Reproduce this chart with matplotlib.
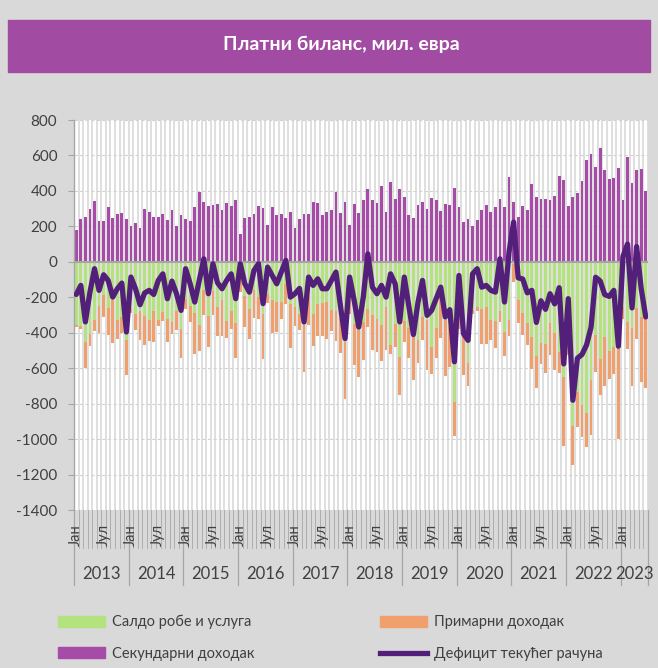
import matplotlib
matplotlib.use('Agg')
import matplotlib.pyplot as plt
import matplotlib.patches as mpatches
from matplotlib.lines import Line2D
from matplotlib.transforms import blended_transform_factory
import numpy as np

plt.rcParams['font.family'] = ['Lato', 'DejaVu Sans']

# monthly data, Jan 2013 - Jun 2023, mil. EUR
years = ['2013', '2014', '2015', '2016', '2017', '2018', '2019', '2020', '2021', '2022', '2023']
month_labels = {0: 'Јан', 6: 'Јул'}

goods = [-359, -361, -452, -405, -330, -247, -189, -261, -218, -330, -311, -442,
         -262, -292, -278, -308, -330, -279, -330, -283, -325, -341, -277, -381,
         -212, -249, -286, -355, -160, -306, -165, -255, -217, -336, -277, -347,
         -105, -192, -264, -161, -198, -293, -183, -213, -227, -226, -124, -236,
         -253, -292, -358, -198, -292, -236, -231, -227, -270, -275, -320, -452,
         -217, -349, -386, -339, -265, -302, -324, -358, -255, -472, -350, -536,
         -332, -371, -424, -442, -311, -330, -481, -371, -200, -330, -368, -790,
         -255, -412, -572, -274, -256, -264, -255, -330, -334, -280, -396, -330,
         -11, -217, -288, -345, -424, -532, -458, -461, -345, -401, -508, -649,
         -400, -927, -733, -808, -855, -664, -411, -549, -424, -501, -482, -460,
         -254, -339, -372, -260, -309, -311]

primary = [-9, -20, -146, -69, -62, -152, -122, -150, -240, -103, -88, -199,
           -29, -94, -161, -163, -116, -173, -30, -51, -129, -64, -109, -161,
           -52, -92, -234, -150, -140, -174, -135, -165, -203, -94, -103, -193,
           -66, -178, -169, -154, -126, -253, -47, -186, -169, -98, -112, -248,
           -107, -94, -263, -156, -184, -184, -189, -210, -120, -169, -197, -324,
           -75, -234, -263, -216, -103, -193, -184, -203, -240, -47, -128, -216,
           -122, -169, -240, -128, -128, -278, -150, -169, -231, -315, -225, -191,
           -125, -225, -131, -19, -22, -201, -206, -109, -150, -60, -137, -90,
           -103, -128, -126, -126, -178, -182, -120, -165, -182, -210, -122, -390,
           -125, -219, -197, -178, -191, -313, -210, -203, -276, -159, -150, -540,
           -66, -150, -328, -173, -371, -403]

secondary = [182, 244, 251, 296, 345, 232, 232, 307, 249, 268, 276, 244,
             204, 219, 189, 298, 281, 255, 253, 268, 236, 292, 202, 266,
             240, 229, 309, 396, 337, 315, 319, 324, 293, 329, 313, 349,
             158, 249, 255, 272, 315, 304, 210, 311, 263, 270, 248, 283,
             191, 244, 272, 272, 338, 330, 264, 279, 291, 396, 277, 338,
             210, 324, 274, 349, 413, 349, 332, 426, 279, 452, 354, 409,
             366, 263, 248, 321, 338, 298, 362, 351, 289, 328, 323, 416,
             311, 227, 244, 204, 234, 294, 323, 279, 308, 354, 311, 476,
             339, 251, 317, 293, 441, 368, 356, 354, 349, 373, 482, 461,
             317, 364, 388, 458, 576, 608, 533, 641, 519, 467, 471, 529,
             349, 589, 446, 519, 523, 401]

current_account = [-184, -133, -339, -171, -39, -161, -73, -105, -199, -152, -120, -396,
                   -86, -152, -242, -176, -161, -184, -105, -68, -208, -109, -180, -274,
                   -39, -124, -227, -105, 17, -180, -11, -118, -152, -105, -68, -208,
                   -11, -124, -171, -49, -11, -236, -30, -77, -124, -58, 8, -199,
                   -180, -150, -339, -86, -133, -96, -152, -152, -105, -58, -250, -433,
                   -86, -218, -368, -199, 45, -143, -180, -133, -199, -68, -124, -339,
                   -86, -250, -410, -230, -105, -302, -274, -208, -143, -311, -270, -564,
                   -77, -405, -443, -68, -39, -143, -133, -161, -171, 17, -227, 56,
                   224, -90, -97, -175, -161, -342, -220, -268, -180, -237, -146, -576,
                   -208, -781, -544, -523, -470, -369, -87, -108, -185, -195, -161, -476,
                   30, 100, -260, 86, -150, -311]

c_green = '#B4E27E'
c_orange = '#F0A06C'
c_purple = '#A74BA8'
c_line = '#52207A'
c_bg = '#D9D9D9'
c_text = '#404040'

W, H = 658, 668
fig = plt.figure(figsize=(W / 100, H / 100), dpi=100, facecolor=c_bg)

# title banner
fig.patches.append(mpatches.Rectangle((8 / W, 1 - 72 / H), 642 / W, 52 / H,
                                      transform=fig.transFigure, color='#A24BA3', zorder=0))
fig.text(341 / W, 1 - 44 / H, 'Платни биланс, мил. евра', color='white', fontsize=14,
         fontweight='bold', ha='center', va='center')

ax = fig.add_axes([74 / W, 1 - 510 / H, 574 / W, 390 / H])
ax.set_facecolor('white')

n = len(secondary)
x = np.arange(n)
goods = np.array(goods)
primary = np.array(primary)

ax.bar(x, secondary, width=0.62, color=c_purple, zorder=2)
ax.bar(x, goods, width=0.62, color=c_green, zorder=2)
ax.bar(x, primary, width=0.62, bottom=goods, color=c_orange, zorder=2)
ax.plot(x, current_account, color=c_line, lw=3.8, solid_joinstyle='round',
        solid_capstyle='round', zorder=4)

ax.set_xlim(-0.5, n - 0.5)
ax.set_ylim(-1400, 800)
ax.set_yticks(range(-1400, 801, 200))
ax.set_yticklabels([str(v) for v in range(-1400, 801, 200)], fontsize=11, color=c_text)
ax.tick_params(axis='y', length=4, color='#A6A6A6', pad=8)
ax.set_xticks([])

# gridlines
for v in range(-1400, 801, 200):
    ax.axhline(v, color='#D0D0D0', lw=0.8, ls=(0, (3, 2)), zorder=0)
for b in np.arange(-0.5, n, 1.0):
    ax.axvline(b, color='#D6D6D6', lw=1.1, zorder=1)
ax.axhline(0, color='#A6A6A6', lw=1.5, zorder=3)

for s in ['top', 'right', 'bottom']:
    ax.spines[s].set_visible(False)
ax.spines['left'].set_color('#A6A6A6')
ax.spines['left'].set_linewidth(1.0)

# category axis below
tr = blended_transform_factory(ax.transData, fig.transFigure)
for b in np.arange(-0.5, n, 1.0):
    ax.plot([b, b], [1 - 510 / H, 1 - 548 / H], color='#A6A6A6', lw=0.6,
            transform=tr, clip_on=False)
for k in range(len(years)):
    start = k * 12 - 0.5
    ax.plot([start, start], [1 - 510 / H, 1 - 585 / H], color='#A6A6A6', lw=0.9,
            transform=tr, clip_on=False)
    end = min(start + 12, n - 0.5)
    ax.text((start + end) / 2, 1 - 574 / H, years[k], transform=tr, ha='center',
            va='center', fontsize=12, color=c_text)
ax.plot([n - 0.5, n - 0.5], [1 - 510 / H, 1 - 585 / H], color='#A6A6A6', lw=0.9,
        transform=tr, clip_on=False)
for i in range(n):
    if i % 12 in month_labels:
        ax.text(i, 1 - 535 / H, month_labels[i % 12], transform=tr, rotation=90,
                ha='center', va='center', fontsize=10.5, color=c_text)

handles = [mpatches.Patch(color=c_green), mpatches.Patch(color=c_purple),
           mpatches.Patch(color=c_orange), Line2D([], [], color=c_line, lw=3.8)]
labels = ['Салдо робе и услуга', 'Секундарни доходак', 'Примарни доходак',
          'Дефицит текућег рачуна']
fig.legend(handles, labels, ncol=2, loc='upper left', bbox_to_anchor=(45 / W, 1 - 602 / H),
           frameon=False, fontsize=10.5, handlelength=3.2, handleheight=0.8,
           handletextpad=0.5, columnspacing=8.6, labelspacing=1.2, labelcolor=c_text)

fig.savefig('out.png', dpi=100, facecolor=c_bg)
